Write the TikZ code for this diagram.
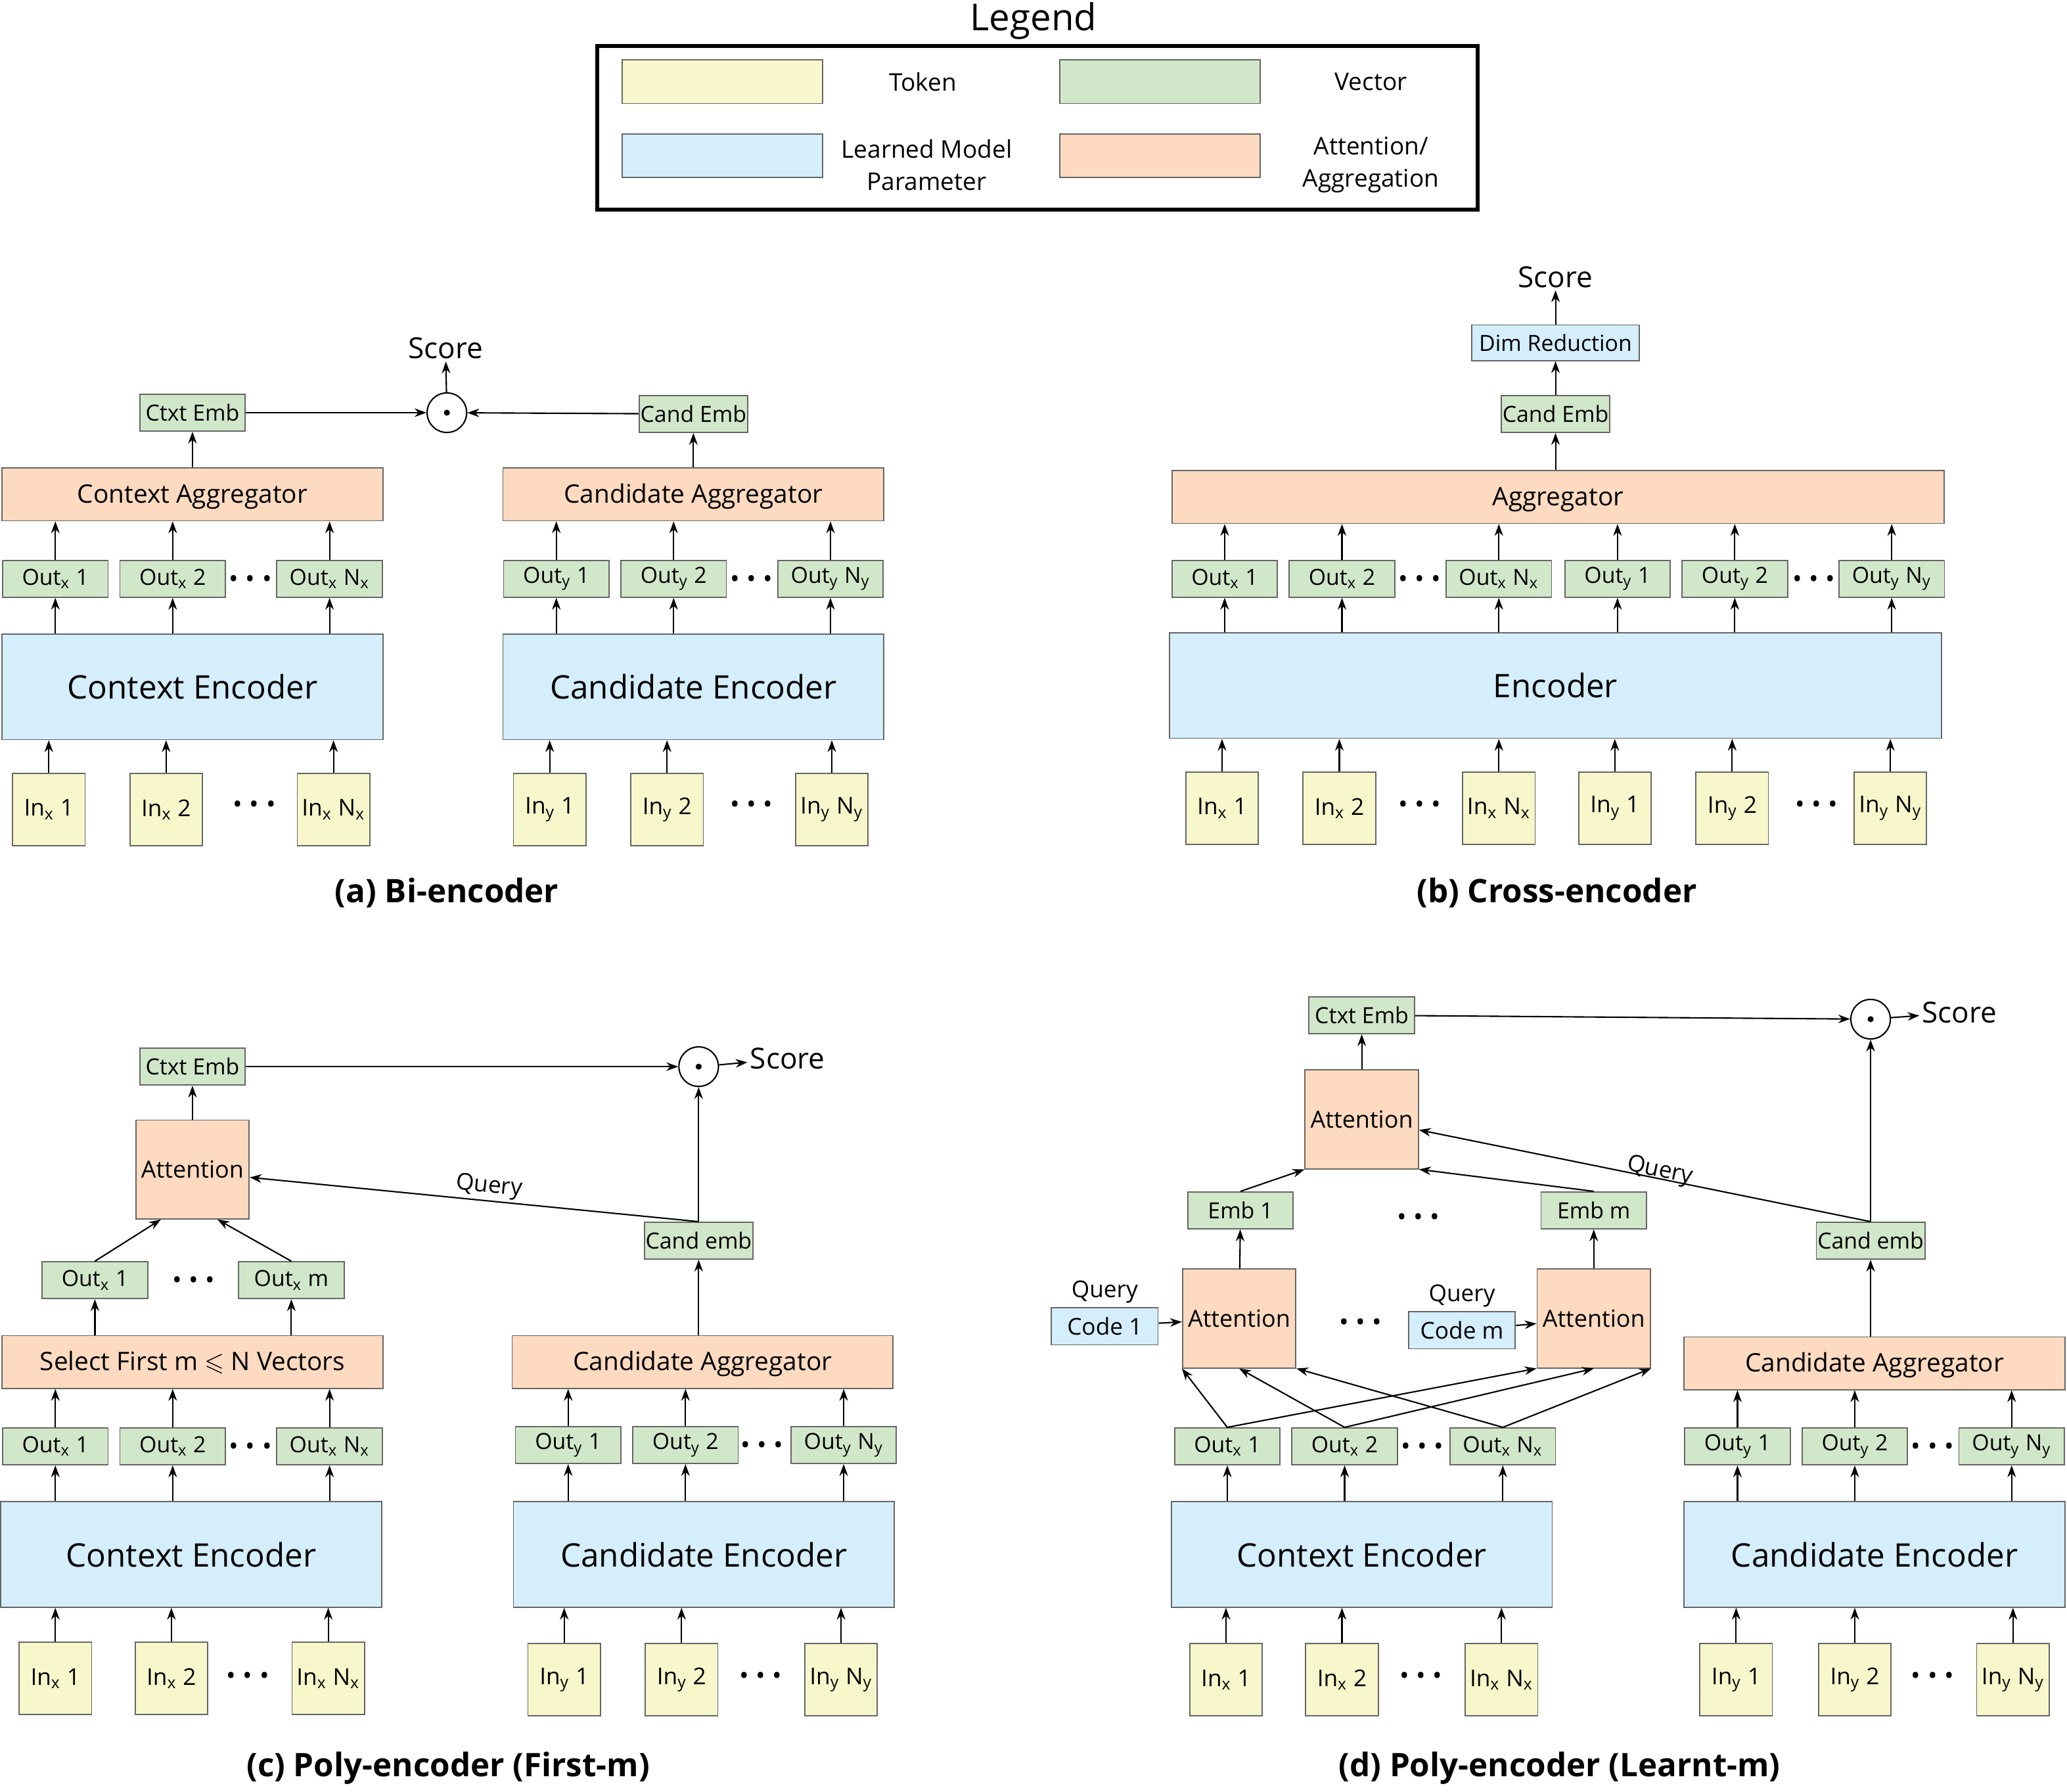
\documentclass[tikz,border=0pt]{standalone}
\usepackage{amssymb}
\usepackage{fontspec}
\setmainfont{Open Sans}
\usetikzlibrary{arrows.meta,positioning}

\definecolor{tokcol}{HTML}{F8F7CB}
\definecolor{veccol}{HTML}{D1E7C9}
\definecolor{parcol}{HTML}{D4EEFB}
\definecolor{attcol}{HTML}{FDDAC0}

\newcommand{\dotrow}{\textbullet\hspace{3pt}\textbullet\hspace{3pt}\textbullet}
\newcommand{\sbx}{\textsubscript{x}}
\newcommand{\sby}{\textsubscript{y}}

\begin{document}
\begin{tikzpicture}[
    x=0.02cm, y=-0.02cm,
    box/.style={draw=black!60, line width=0.5pt, inner sep=0.5pt, font=\fontsize{9.6}{11}\selectfont},
    tok/.style={box, fill=tokcol, minimum width=1.1cm, minimum height=1.1cm, font=\fontsize{10}{12}\selectfont},
    vec/.style={box, fill=veccol, minimum width=1.6cm, minimum height=0.56cm},
    enc/.style={box, fill=parcol, minimum width=5.78cm, minimum height=1.6cm, font=\fontsize{14}{16}\selectfont},
    agg/.style={box, fill=attcol, minimum width=5.78cm, minimum height=0.8cm, text height=0.72em, text depth=0pt, font=\fontsize{11}{13}\selectfont},
    att/.style={box, fill=attcol, minimum width=1.72cm, minimum height=1.5cm, font=\fontsize{10.2}{12}\selectfont},
    code/.style={box, fill=parcol, minimum width=1.62cm, minimum height=0.56cm, font=\fontsize{10}{12}\selectfont},
    op/.style={circle, draw, line width=0.6pt, minimum size=0.6cm, inner sep=0pt,
        path picture={\fill (path picture bounding box.center) circle (1.3pt);}},
    dotsn/.style={inner sep=0pt, font=\fontsize{11}{12}\selectfont},
    lbl/.style={inner sep=1pt, font=\fontsize{10}{12}\selectfont},
    leglbl/.style={inner sep=1pt, align=center, font=\fontsize{10.5}{14}\selectfont},
    score/.style={inner sep=1pt, font=\fontsize{12.5}{14}\selectfont},
    captxt/.style={font=\fontsize{14}{16}\selectfont\bfseries},
    arr/.style={-{Stealth[length=1.8mm,width=1.3mm]}, line width=0.6pt},
]
\useasboundingbox (0,0) rectangle (1568,1359);

% legend
\node[font=\fontsize{16}{18}\selectfont] (leg-title) at (784,16) {Legend};
\node[draw, line width=1.6pt, minimum width=13.36cm, minimum height=2.48cm] (leg) at (787,97) {};
\node[box, fill=tokcol, minimum width=3.04cm, minimum height=0.66cm] (leg-tok) at (548,62) {};
\node[leglbl] (leg-toklbl) at (700,62) {Token};
\node[box, fill=veccol, minimum width=3.04cm, minimum height=0.66cm] (leg-vec) at (880,62) {};
\node[leglbl] (leg-veclbl) at (1040,62) {Vector};
\node[box, fill=parcol, minimum width=3.04cm, minimum height=0.66cm] (leg-par) at (548,118) {};
\node[leglbl] (leg-parlbl) at (703,125) {Learned Model\\Parameter};
\node[box, fill=attcol, minimum width=3.04cm, minimum height=0.66cm] (leg-att) at (880,118) {};
\node[leglbl] (leg-attlbl) at (1040,125) {Attention/\\Aggregation};

% (a) bi-encoder
\node[vec] (a-ctx) at (146,313) {Ctxt Emb};
\node[agg] (a-cagg) at (146,375) {Context Aggregator};
\node[vec] (a-ox1) at (42,439) {Out\sbx{} 1};
\node[vec] (a-ox2) at (131,439) {Out\sbx{} 2};
\node[vec] (a-oxn) at (250,439) {Out\sbx{} N\sbx};
\node[dotsn] (a-oxd) at (190,441) {\dotrow};
\node[enc] (a-cenc) at (146,521) {Context Encoder};
\node[tok] (a-ix1) at (37,614) {In\sbx{} 1};
\node[tok] (a-ix2) at (126,614) {In\sbx{} 2};
\node[tok] (a-ixn) at (253,614) {In\sbx{} N\sbx};
\node[dotsn] (a-ixd) at (193,612) {\dotrow};

\node[vec] (a-cnd) at (526,314) {Cand Emb};
\node[agg] (a-yagg) at (526,375) {Candidate Aggregator};
\node[vec] (a-oy1) at (422,439) {Out\sby{} 1};
\node[vec] (a-oy2) at (511,439) {Out\sby{} 2};
\node[vec] (a-oyn) at (630,439) {Out\sby{} N\sby};
\node[dotsn] (a-oyd) at (570,441) {\dotrow};
\node[enc] (a-yenc) at (526,521) {Candidate Encoder};
\node[tok] (a-iy1) at (417,614) {In\sby{} 1};
\node[tok] (a-iy2) at (506,614) {In\sby{} 2};
\node[tok] (a-iyn) at (631,614) {In\sby{} N\sby};
\node[dotsn] (a-iyd) at (570,612) {\dotrow};

\node[op] (a-dot) at (339,313) {};
\node[score] (a-score) at (338,264) {Score};
\node[captxt] (a-cap) at (339,677) {(a) Bi-encoder};

\foreach \k in {1,2,n} {
    \draw[arr] (a-ix\k) -- (a-ix\k |- a-cenc.south);
    \draw[arr] (a-cenc.north -| a-ox\k) -- (a-ox\k);
    \draw[arr] (a-ox\k) -- (a-ox\k |- a-cagg.south);
    \draw[arr] (a-iy\k) -- (a-iy\k |- a-yenc.south);
    \draw[arr] (a-yenc.north -| a-oy\k) -- (a-oy\k);
    \draw[arr] (a-oy\k) -- (a-oy\k |- a-yagg.south);
}
\draw[arr] (a-cagg.north -| a-ctx) -- (a-ctx);
\draw[arr] (a-yagg.north -| a-cnd) -- (a-cnd);
\draw[arr] (a-ctx) -- (a-dot);
\draw[arr] (a-cnd) -- (a-dot);
\draw[arr] (a-dot) -- (a-score);

% (b) cross-encoder
\node[score] (b-score) at (1180,210) {Score};
\node[box, fill=parcol, minimum width=2.54cm, minimum height=0.54cm] (b-dim) at (1180,260) {Dim Reduction};
\node[vec] (b-cnd) at (1180,314) {Cand Emb};
\node[agg, minimum width=11.72cm] (b-agg) at (1182,377) {Aggregator};
\node[vec] (b-ox1) at (929,439) {Out\sbx{} 1};
\node[vec] (b-ox2) at (1018,439) {Out\sbx{} 2};
\node[vec] (b-oxn) at (1137,439) {Out\sbx{} N\sbx};
\node[vec] (b-oy1) at (1227,439) {Out\sby{} 1};
\node[vec] (b-oy2) at (1316,439) {Out\sby{} 2};
\node[vec] (b-oyn) at (1435,439) {Out\sby{} N\sby};
\node[dotsn] (b-oxd) at (1077,441) {\dotrow};
\node[dotsn] (b-oyd) at (1376,441) {\dotrow};
\node[enc, minimum width=11.72cm] (b-enc) at (1180,520) {Encoder};
\node[tok] (b-ix1) at (927,613) {In\sbx{} 1};
\node[tok] (b-ix2) at (1016,613) {In\sbx{} 2};
\node[tok] (b-ixn) at (1137,613) {In\sbx{} N\sbx};
\node[tok] (b-iy1) at (1225,613) {In\sby{} 1};
\node[tok] (b-iy2) at (1314,613) {In\sby{} 2};
\node[tok] (b-iyn) at (1434,613) {In\sby{} N\sby};
\node[dotsn] (b-ixd) at (1077,612) {\dotrow};
\node[dotsn] (b-iyd) at (1378,612) {\dotrow};
\node[captxt] (b-cap) at (1181,677) {(b) Cross-encoder};

\foreach \k in {x1,x2,xn,y1,y2,yn} {
    \draw[arr] (b-i\k) -- (b-i\k |- b-enc.south);
    \draw[arr] (b-enc.north -| b-o\k) -- (b-o\k);
    \draw[arr] (b-o\k) -- (b-o\k |- b-agg.south);
}
\draw[arr] (b-agg.north -| b-cnd) -- (b-cnd);
\draw[arr] (b-cnd) -- (b-dim);
\draw[arr] (b-dim) -- (b-score);

% (c) poly-encoder, first m
\node[vec] (c-ctx) at (146,809) {Ctxt Emb};
\node[att] (c-att) at (146,887) {Attention};
\node[vec] (c-o1) at (72,971) {Out\sbx{} 1};
\node[vec] (c-om) at (221,971) {Out\sbx{} m};
\node[dotsn] (c-od) at (147,973) {\dotrow};
\node[agg] (c-sel) at (146,1033) {Select First m $\leqslant$ N Vectors};
\node[vec] (c-ox1) at (42,1097) {Out\sbx{} 1};
\node[vec] (c-ox2) at (131,1097) {Out\sbx{} 2};
\node[vec] (c-oxn) at (250,1097) {Out\sbx{} N\sbx};
\node[dotsn] (c-oxd) at (190,1099) {\dotrow};
\node[enc] (c-cenc) at (145,1179) {Context Encoder};
\node[tok] (c-ix1) at (42,1273) {In\sbx{} 1};
\node[tok] (c-ix2) at (130,1273) {In\sbx{} 2};
\node[tok] (c-ixn) at (249,1273) {In\sbx{} N\sbx};
\node[dotsn] (c-ixd) at (188,1273) {\dotrow};

\node[op] (c-dot) at (530,809) {};
\node[score, anchor=west] (c-score) at (567,803) {Score};
\node[vec] (c-cnd) at (530,941) {Cand emb};
\node[agg] (c-yagg) at (533,1033) {Candidate Aggregator};
\node[vec] (c-oy1) at (431,1096) {Out\sby{} 1};
\node[vec] (c-oy2) at (520,1096) {Out\sby{} 2};
\node[vec] (c-oyn) at (640,1096) {Out\sby{} N\sby};
\node[dotsn] (c-oyd) at (578,1098) {\dotrow};
\node[enc] (c-yenc) at (534,1179) {Candidate Encoder};
\node[tok] (c-iy1) at (428,1274) {In\sby{} 1};
\node[tok] (c-iy2) at (517,1274) {In\sby{} 2};
\node[tok] (c-iyn) at (638,1274) {In\sby{} N\sby};
\node[dotsn] (c-iyd) at (577,1273) {\dotrow};
\node[captxt] (c-cap) at (340,1341) {(c) Poly-encoder (First-m)};

\foreach \k in {1,2,n} {
    \draw[arr] (c-ix\k) -- (c-ix\k |- c-cenc.south);
    \draw[arr] (c-cenc.north -| c-ox\k) -- (c-ox\k);
    \draw[arr] (c-ox\k) -- (c-ox\k |- c-sel.south);
    \draw[arr] (c-iy\k) -- (c-iy\k |- c-yenc.south);
    \draw[arr] (c-yenc.north -| c-oy\k) -- (c-oy\k);
    \draw[arr] (c-oy\k) -- (c-oy\k |- c-yagg.south);
}
\draw[arr] (c-sel.north -| c-o1) -- (c-o1);
\draw[arr] (c-sel.north -| c-om) -- (c-om);
\draw[arr] (c-o1.north) -- ([xshift=-0.48cm]c-att.south);
\draw[arr] (c-om.north) -- ([xshift=0.38cm]c-att.south);
\draw[arr] (c-att) -- (c-ctx);
\draw[arr] (c-yagg.north -| c-cnd) -- (c-cnd);
\draw[arr] (c-cnd) -- (c-dot);
\draw[arr] (c-cnd.north) -- node[lbl, pos=0.47, sloped, above] {Query} ([yshift=-0.12cm]c-att.east);
\draw[arr] (c-ctx) -- (c-dot);
\draw[arr] (c-dot) -- (c-score);

% (d) poly-encoder, learnt m
\node[vec] (d-ctx) at (1033,770) {Ctxt Emb};
\node[att] (d-att) at (1033,849) {Attention};
\node[vec] (d-e1) at (941,918) {Emb 1};
\node[vec] (d-em) at (1209,918) {Emb m};
\node[dotsn] (d-ed) at (1076,925) {\dotrow};
\node[att] (d-a1) at (940,1000) {Attention};
\node[att] (d-am) at (1209,1000) {Attention};
\node[dotsn] (d-ad) at (1032,1005) {\dotrow};
\node[code] (d-c1) at (838,1006) {Code 1};
\node[code] (d-cm) at (1109,1009) {Code m};
\node[lbl, above=0.02cm of d-c1] (d-q1) {Query};
\node[lbl, above=0.02cm of d-cm] (d-qm) {Query};
\node[vec] (d-ox1) at (931,1097) {Out\sbx{} 1};
\node[vec] (d-ox2) at (1020,1097) {Out\sbx{} 2};
\node[vec] (d-oxn) at (1140,1097) {Out\sbx{} N\sbx};
\node[dotsn] (d-oxd) at (1079,1099) {\dotrow};
\node[enc] (d-cenc) at (1033,1179) {Context Encoder};
\node[tok] (d-ix1) at (930,1274) {In\sbx{} 1};
\node[tok] (d-ix2) at (1018,1274) {In\sbx{} 2};
\node[tok] (d-ixn) at (1139,1274) {In\sbx{} N\sbx};
\node[dotsn] (d-ixd) at (1078,1273) {\dotrow};

\node[op] (d-dot) at (1419,773) {};
\node[score, anchor=west] (d-score) at (1456,768) {Score};
\node[vec] (d-cnd) at (1419,941) {Cand emb};
\node[agg] (d-yagg) at (1422,1034) {Candidate Aggregator};
\node[vec] (d-oy1) at (1318,1097) {Out\sby{} 1};
\node[vec] (d-oy2) at (1407,1097) {Out\sby{} 2};
\node[vec] (d-oyn) at (1526,1097) {Out\sby{} N\sby};
\node[dotsn] (d-oyd) at (1466,1099) {\dotrow};
\node[enc] (d-yenc) at (1422,1179) {Candidate Encoder};
\node[tok] (d-iy1) at (1317,1274) {In\sby{} 1};
\node[tok] (d-iy2) at (1407,1274) {In\sby{} 2};
\node[tok] (d-iyn) at (1527,1274) {In\sby{} N\sby};
\node[dotsn] (d-iyd) at (1466,1273) {\dotrow};
\node[captxt] (d-cap) at (1183,1341) {(d) Poly-encoder (Learnt-m)};

\foreach \k in {1,2,n} {
    \draw[arr] (d-ix\k) -- (d-ix\k |- d-cenc.south);
    \draw[arr] (d-cenc.north -| d-ox\k) -- (d-ox\k);
    \draw[arr] (d-iy\k) -- (d-iy\k |- d-yenc.south);
    \draw[arr] (d-yenc.north -| d-oy\k) -- (d-oy\k);
    \draw[arr] (d-oy\k) -- (d-oy\k |- d-yagg.south);
}
% every output feeds both attention heads
\foreach \a/\t in {1/south west,2/south,n/south east} {
    \draw[arr] (d-ox\a.north) -- (d-a1.\t);
    \draw[arr] (d-ox\a.north) -- (d-am.\t);
}
\draw[arr] (d-c1) -- (d-a1);
\draw[arr] (d-cm) -- (d-am);
\draw[arr] (d-a1) -- (d-e1);
\draw[arr] (d-am) -- (d-em);
\draw[arr] (d-e1.north) -- (d-att.south west);
\draw[arr] (d-em.north) -- (d-att.south east);
\draw[arr] (d-att) -- (d-ctx);
\draw[arr] (d-ctx) -- (d-dot);
\draw[arr] (d-yagg.north -| d-cnd) -- (d-cnd);
\draw[arr] (d-cnd) -- (d-dot);
\draw[arr] (d-cnd.north) -- node[lbl, pos=0.47, sloped, above, inner sep=0pt, yshift=-2pt] {Query} ([yshift=-0.16cm]d-att.east);
\draw[arr] (d-dot) -- (d-score);
\end{tikzpicture}
\end{document}
